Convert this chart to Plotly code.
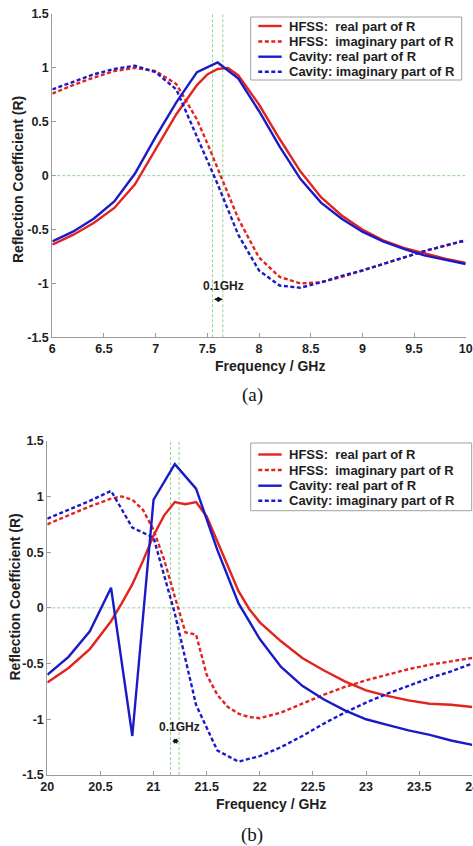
import plotly.graph_objects as go

# ---------------- data (a) ----------------
freq_a_cav = [6.0, 6.2, 6.4, 6.6, 6.8, 7.0, 7.2, 7.4, 7.6, 7.8, 8.0, 8.2, 8.4, 8.6, 8.8,
              9.0, 9.2, 9.4, 9.6, 9.8, 10.0]
cav_real_a = [-0.61, -0.52, -0.40, -0.24, 0.02, 0.36, 0.68, 0.96, 1.05, 0.90, 0.60, 0.27,
              -0.03, -0.25, -0.40, -0.52, -0.61, -0.68, -0.74, -0.78, -0.82]
cav_imag_a = [0.80, 0.87, 0.94, 0.99, 1.02, 0.96, 0.80, 0.36, -0.08, -0.55, -0.88, -1.02,
              -1.04, -0.99, -0.93, -0.88, -0.82, -0.76, -0.70, -0.65, -0.60]

freq_a_hfss = [6.0, 6.2, 6.4, 6.6, 6.8, 7.0, 7.2, 7.4, 7.5, 7.6, 7.7, 7.8, 8.0, 8.2, 8.4,
               8.6, 8.8, 9.0, 9.2, 9.4, 9.6, 9.8, 10.0]
hfss_real_a = [-0.64, -0.55, -0.44, -0.30, -0.08, 0.24, 0.57, 0.84, 0.94, 0.99, 1.00, 0.93,
               0.66, 0.34, 0.04, -0.20, -0.37, -0.50, -0.60, -0.67, -0.72, -0.77, -0.81]
hfss_imag_a = [0.76, 0.84, 0.91, 0.97, 1.00, 0.97, 0.85, 0.52, 0.30, 0.07, -0.17, -0.40,
               -0.76, -0.94, -1.00, -0.99, -0.94, -0.88, -0.82, -0.76, -0.70, -0.65, -0.60]

# ---------------- data (b) ----------------
freq_b_cav = [20.0, 20.2, 20.4, 20.6, 20.8, 21.0, 21.2, 21.4, 21.6, 21.8, 22.0, 22.2, 22.4,
              22.6, 22.8, 23.0, 23.2, 23.4, 23.6, 23.8, 24.0]
cav_real_b = [-0.60, -0.44, -0.21, 0.18, -1.15, 0.97, 1.29, 1.07, 0.52, 0.04, -0.28, -0.53,
              -0.70, -0.82, -0.92, -1.00, -1.05, -1.10, -1.14, -1.19, -1.23]
cav_imag_b = [0.80, 0.88, 0.96, 1.05, 0.72, 0.63, -0.05, -0.87, -1.28, -1.38, -1.33, -1.25,
              -1.15, -1.04, -0.94, -0.85, -0.77, -0.70, -0.63, -0.57, -0.50]

freq_b_hfss = [20.0, 20.2, 20.4, 20.6, 20.7, 20.8, 20.9, 21.0, 21.1, 21.2, 21.3, 21.4, 21.5,
               21.6, 21.7, 21.8, 21.9, 22.0, 22.2, 22.4, 22.6, 22.8, 23.0, 23.2, 23.4, 23.6,
               23.8, 24.0]
hfss_real_b = [-0.67, -0.54, -0.37, -0.12, 0.04, 0.21, 0.42, 0.65, 0.83, 0.95, 0.93, 0.95,
               0.82, 0.60, 0.37, 0.15, -0.01, -0.13, -0.30, -0.45, -0.56, -0.66, -0.74,
               -0.79, -0.83, -0.86, -0.87, -0.89]
hfss_imag_b = [0.75, 0.83, 0.91, 0.98, 1.00, 0.97, 0.88, 0.70, 0.43, 0.10, -0.22, -0.24,
               -0.60, -0.78, -0.89, -0.95, -0.98, -0.99, -0.94, -0.86, -0.78, -0.71, -0.65,
               -0.60, -0.55, -0.51, -0.48, -0.45]

# markers: vertical guide lines and 0.1 GHz arrow positions
guides_a = [7.55, 7.65]
guides_b = [21.16, 21.24]
legend_names = ["HFSS:  real part of R", "HFSS:  imaginary part of R",
                "Cavity: real part of R", "Cavity: imaginary part of R"]
y_ticks = [1.5, 1, 0.5, 0, -0.5, -1, -1.5]
y_ticktext = ["1.5", "1", "0.5", "0", "-0.5", "-1", "-1.5"]

# ---------------- styling ----------------
W, H = 473, 846
RED = "#e2231f"
BLUE = "#1a1ac8"
GREEN = "#8fd48f"
AXC = "#9c9c9c"
TXT = "#1e1e1e"
FONT = "Liberation Sans, Arial, sans-serif"
DASH = "4px,2.5px"
LW = 2.4


def px(x):
    return x / W


def py(y):
    return 1 - y / H


fig = go.Figure()

panels = [
    dict(xa="x", ya="y",
         series=[(freq_a_hfss, hfss_real_a, RED, "solid"),
                 (freq_a_hfss, hfss_imag_a, RED, DASH),
                 (freq_a_cav, cav_real_a, BLUE, "solid"),
                 (freq_a_cav, cav_imag_a, BLUE, DASH)]),
    dict(xa="x2", ya="y2",
         series=[(freq_b_hfss, hfss_real_b, RED, "solid"),
                 (freq_b_hfss, hfss_imag_b, RED, DASH),
                 (freq_b_cav, cav_real_b, BLUE, "solid"),
                 (freq_b_cav, cav_imag_b, BLUE, DASH)]),
]

shapes = []
annotations = []

# guide lines (drawn below traces)
for xa, ya, guides, xr in [("x", "y", guides_a, (6, 10)), ("x2", "y2", guides_b, (20, 24))]:
    for g in guides:
        shapes.append(dict(type="line", xref=xa, yref=ya, x0=g, x1=g, y0=-1.5, y1=1.5,
                           line=dict(color=GREEN, width=1, dash="3px,2px"), layer="below"))
    shapes.append(dict(type="line", xref=xa, yref=ya, x0=xr[0], x1=xr[1], y0=0, y1=0,
                       line=dict(color=GREEN, width=1, dash="3px,2px"), layer="below"))

for p in panels:
    for (xs, ys, col, dash), name in zip(p["series"], legend_names):
        fig.add_trace(go.Scatter(x=xs, y=ys, mode="lines", name=name, showlegend=False,
                                 xaxis=p["xa"], yaxis=p["ya"],
                                 line=dict(color=col, width=LW, dash=dash)))

# 0.1 GHz arrows + labels
for xa, ya, guides, ytxt, yarr, xtxt in [("x", "y", guides_a, -1.02, -1.147, 7.652),
                                         ("x2", "y2", guides_b, -1.07, -1.197, 21.248)]:
    annotations.append(dict(xref=xa, yref=ya, axref=xa, ayref=ya,
                            x=guides[1], y=yarr, ax=guides[0], ay=yarr, text="",
                            showarrow=True, arrowhead=2, arrowside="end+start",
                            arrowsize=0.7, arrowwidth=1.5, arrowcolor="#111"))
    annotations.append(dict(xref=xa, yref=ya, x=xtxt, y=ytxt, text="0.1GHz", showarrow=False,
                            font=dict(family=FONT, size=12, color=TXT, weight="bold")))

# manual legends
legend_boxes = [
    dict(x0=250.7, x1=461.7, y0=17, y1=80, rows=[26, 41.5, 56.7, 71.7]),
    dict(x0=250.7, x1=471.7, y0=443, y1=510.7, rows=[454.5, 470, 485.7, 500.7]),
]
styles = [(RED, "solid"), (RED, DASH), (BLUE, "solid"), (BLUE, DASH)]
for lb in legend_boxes:
    shapes.append(dict(type="rect", xref="paper", yref="paper",
                       x0=px(lb["x0"]), x1=px(lb["x1"]), y0=py(lb["y1"]), y1=py(lb["y0"]),
                       line=dict(color="#a0a0a0", width=1), fillcolor="white", layer="above"))
    for ry, (col, dash), name in zip(lb["rows"], styles, legend_names):
        shapes.append(dict(type="line", xref="paper", yref="paper",
                           x0=px(258.3), x1=px(281.7), y0=py(ry), y1=py(ry),
                           line=dict(color=col, width=LW, dash=dash), layer="above"))
        annotations.append(dict(xref="paper", yref="paper", x=px(286.5), y=py(ry),
                                xanchor="left", yanchor="middle", text=name, showarrow=False,
                                font=dict(family=FONT, size=13, color=TXT, weight="bold")))

# axis titles and captions
for (xt, yt, ylx, yly, cap_y, cap) in [(270, 366, 18, 180, 395, "(a)"),
                                        (270.7, 804, 14, 597.5, 835, "(b)")]:
    annotations.append(dict(xref="paper", yref="paper", x=px(xt), y=py(yt),
                            text="Frequency / GHz", showarrow=False,
                            xanchor="center", yanchor="middle",
                            font=dict(family=FONT, size=14, color=TXT, weight="bold")))
    annotations.append(dict(xref="paper", yref="paper", x=px(ylx), y=py(yly),
                            text="Reflection Coefficient (R)", showarrow=False, textangle=-90,
                            xanchor="center", yanchor="middle",
                            font=dict(family=FONT, size=14, color=TXT, weight="bold")))
    annotations.append(dict(xref="paper", yref="paper", x=px(252), y=py(cap_y),
                            text=cap, showarrow=False, xanchor="center", yanchor="middle",
                            font=dict(family="Liberation Serif, Times New Roman, serif",
                                      size=19, color="#111")))

tickfont = dict(family=FONT, size=12.5, color=TXT, weight="bold")
common_x = dict(showline=True, linecolor=AXC, linewidth=1, ticks="inside", ticklen=4,
                tickcolor=AXC, tickwidth=1, dtick=0.5, showgrid=False, zeroline=False,
                tickfont=tickfont, automargin=False, mirror=False,
                ticklabeloverflow="allow")
common_y = dict(showline=True, linecolor=AXC, linewidth=1, ticks="inside", ticklen=4,
                tickcolor=AXC, tickwidth=1, tickvals=y_ticks, ticktext=y_ticktext,
                showgrid=False, zeroline=False, tickfont=tickfont, automargin=False,
                range=[-1.5, 1.5], mirror=False, ticklabeloverflow="allow")

fig.update_layout(
    width=W, height=H, autosize=False,
    margin=dict(l=0, r=0, t=0, b=0),
    paper_bgcolor="white", plot_bgcolor="white",
    showlegend=False,
    xaxis=dict(common_x, domain=[px(52.3), px(465.7)], range=[6, 10], tick0=6, anchor="y"),
    yaxis=dict(common_y, domain=[py(337.3), py(14)], anchor="x"),
    xaxis2=dict(common_x, domain=[px(47.3), px(472.3)], range=[20, 24], tick0=20, anchor="y2"),
    yaxis2=dict(common_y, domain=[py(775), py(440.7)], anchor="x2"),
    shapes=shapes,
    annotations=annotations,
)

fig.write_html("out.html")
